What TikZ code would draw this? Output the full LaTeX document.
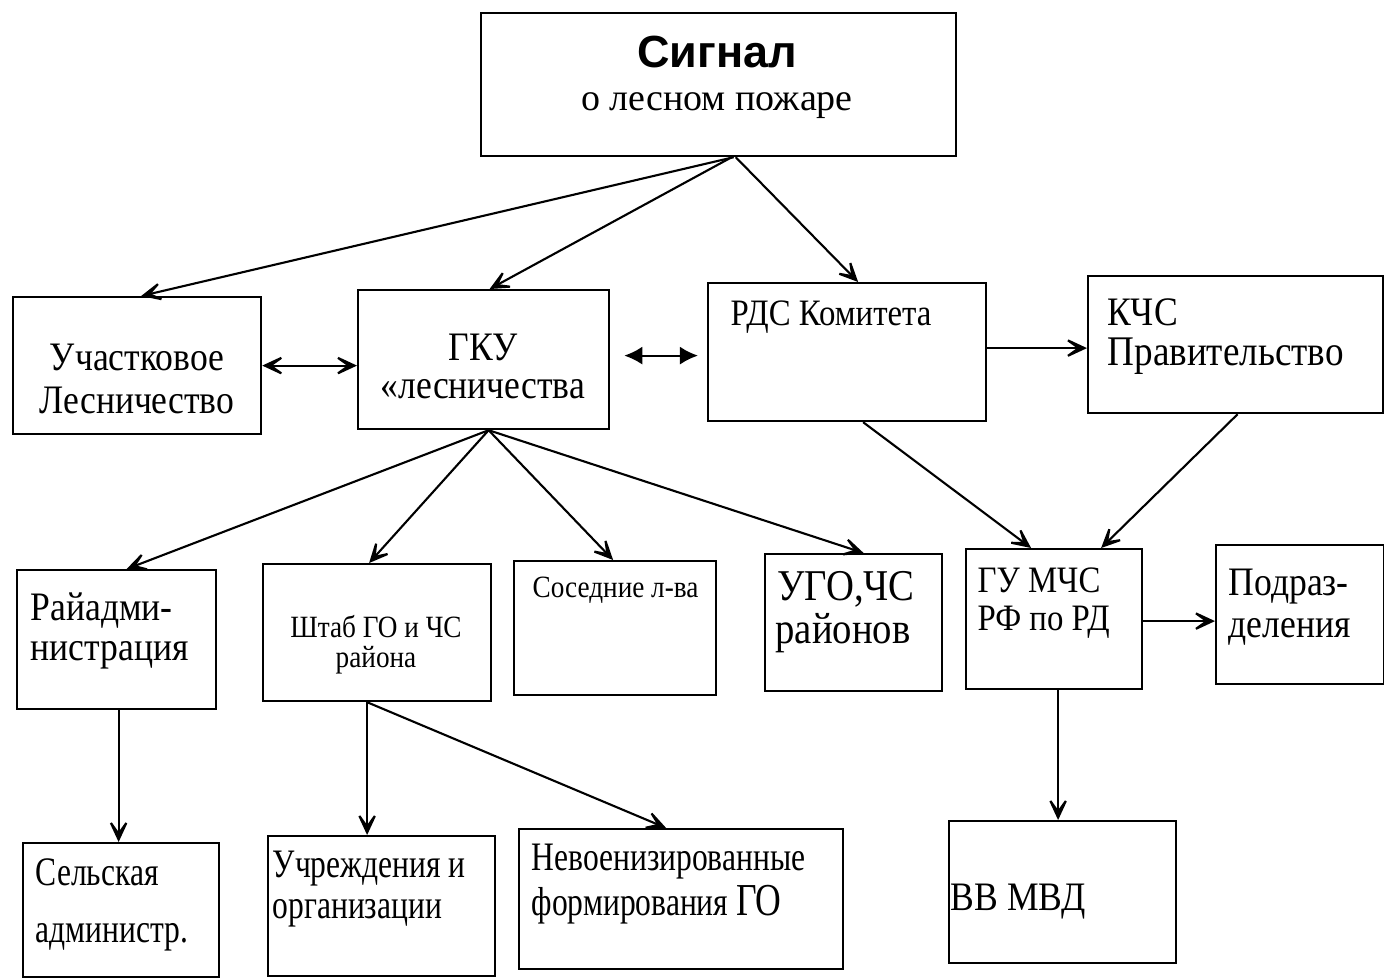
\documentclass[tikz,border=0pt]{standalone}
\usepackage{fontspec}
\setmainfont{Liberation Serif}
\newfontfamily\narrowfont[FakeStretch=0.88]{Liberation Serif}
\newfontfamily\tightfont[FakeStretch=0.78]{Liberation Serif}
\newfontfamily\headfont{Liberation Sans}
\usetikzlibrary{calc}
\usetikzlibrary{arrows.meta}

\tikzset{
  box/.style={draw, line width=.6pt, inner sep=0, anchor=north west},
  txt/.style={inner sep=0, font=\narrowfont\fontsize{11.5}{13}\selectfont},
  bigtxt/.style={inner sep=0, font=\narrowfont\fontsize{12.5}{14}\selectfont},
  tighttxt/.style={inner sep=0, font=\tightfont\fontsize{11.5}{13}\selectfont},
  smalltxt/.style={inner sep=0, font=\narrowfont\fontsize{8.8}{10}\selectfont},
  arr/.style={line width=.6pt, -{Stealth[length=2.9mm,width=2.7mm,inset=1.9mm]}},
  twoarr/.style={line width=.6pt, {Stealth[length=2.9mm,width=2.7mm,inset=1.9mm]}-{Stealth[length=2.9mm,width=2.7mm,inset=1.9mm]}},
  fillarr/.style={line width=.6pt, {Latex[length=1.8mm,width=1.8mm]}-{Latex[length=1.8mm,width=1.8mm]}}
}

\begin{document}
\begin{tikzpicture}[x=.01cm, y=-.01cm]
\useasboundingbox (0,0) rectangle (1384,978);
% boxes
\node[box, minimum width=4.75cm, minimum height=1.43cm] (signal) at (480,12) {};
\node[box, minimum width=2.48cm, minimum height=1.37cm] (uch) at (12,296) {};
\node[box, minimum width=2.51cm, minimum height=1.39cm] (gku) at (357,289) {};
\node[box, minimum width=2.78cm, minimum height=1.38cm] (rds) at (707,282) {};
\node[box, minimum width=2.95cm, minimum height=1.37cm] (kchs) at (1087,275) {};
\node[box, minimum width=1.99cm, minimum height=1.39cm] (raion) at (16,569) {};
\node[box, minimum width=2.28cm, minimum height=1.37cm] (shtab) at (262,563) {};
\node[box, minimum width=2.02cm, minimum height=1.34cm] (sosed) at (513,560) {};
\node[box, minimum width=1.77cm, minimum height=1.37cm] (ugo) at (764,553) {};
\node[box, minimum width=1.76cm, minimum height=1.40cm] (gumchs) at (965,548) {};
\node[box, minimum width=1.68cm, minimum height=1.39cm] (podr) at (1215,544) {};
\node[box, minimum width=1.96cm, minimum height=1.34cm] (selsk) at (22,842) {};
\node[box, minimum width=2.27cm, minimum height=1.40cm] (uchr) at (267,835) {};
\node[box, minimum width=3.24cm, minimum height=1.40cm] (nevoen) at (518,828) {};
\node[box, minimum width=2.27cm, minimum height=1.42cm] (vvmvd) at (948,820) {};

% texts
\node[inner sep=0, anchor=base, font=\headfont\bfseries\fontsize{12.8}{14}\selectfont] (signal-a) at (717,67) {Сигнал};
\node[inner sep=0, anchor=base, font=\fontsize{10.8}{12}\selectfont] (signal-b) at (717,110) {о лесном пожаре};
\node[txt, anchor=base] (uch-a) at (137,370) {Участковое};
\node[txt, anchor=base] (uch-b) at (137,413) {Лесничество};
\node[txt, anchor=base] (gku-a) at (483,360) {ГКУ};
\node[txt, anchor=base] (gku-b) at (483,398) {«лесничества};
\node[smalltxt, font=\narrowfont\fontsize{10.6}{12}\selectfont, anchor=base west] (rds-a) at (730,325) {РДС Комитета};
\node[txt, anchor=base west] (kchs-a) at (1107,325) {КЧС};
\node[txt, font=\narrowfont\fontsize{12}{13}\selectfont, anchor=base west] (kchs-b) at (1107,365) {Правительство};
\node[txt, anchor=base west] (raion-a) at (30,620) {Райадми-};
\node[txt, anchor=base west] (raion-b) at (30,660) {нистрация};
\node[smalltxt, anchor=base] (shtab-a) at (376,637) {Штаб ГО и ЧС};
\node[smalltxt, anchor=base] (shtab-b) at (376,667) {района};
\node[smalltxt, anchor=base west] (sosed-a) at (532,597) {Соседние л-ва};
\node[bigtxt, anchor=base] (ugo-a) at (846,600) {УГО,ЧС};
\node[bigtxt, anchor=base] (ugo-b) at (843,643) {районов};
\node[txt, font=\narrowfont\fontsize{10.6}{12}\selectfont, anchor=base west] (gumchs-a) at (977,592) {ГУ МЧС};
\node[txt, font=\narrowfont\fontsize{10.6}{12}\selectfont, anchor=base west] (gumchs-b) at (977,630) {РФ по РД};
\node[txt, anchor=base west] (podr-a) at (1228,595) {Подраз-};
\node[txt, anchor=base west] (podr-b) at (1228,637) {деления};
\node[tighttxt, anchor=base west] (selsk-a) at (35,885) {Сельская};
\node[tighttxt, anchor=base west] (selsk-b) at (35,942) {администр.};
\node[tighttxt, anchor=base west] (uchr-a) at (272,877) {Учреждения и};
\node[tighttxt, anchor=base west] (uchr-b) at (272,918) {организации};
\node[tighttxt, anchor=base west] (nevoen-a) at (531,870) {Невоенизированные};
\node[tighttxt, font=\tightfont\fontsize{11.5}{13}\selectfont, anchor=base west] (nevoen-b) at (531,915) {формирования \fontsize{13}{14}\selectfont ГО};
\node[txt, anchor=base west] (vvmvd-a) at (950,910) {ВВ МВД};

% connectors
\draw[arr] ([xshift=.15cm]signal.south) -- ([xshift=.04cm]uch.north);
\draw[arr] ([xshift=.13cm]signal.south) -- ([xshift=.06cm]gku.north);
\draw[arr] ([xshift=.17cm]signal.south) -- ([xshift=.11cm]rds.north);
\draw[twoarr] (uch.east) -- (uch.east -| gku.west);
\draw[fillarr] ([xshift=.14cm,yshift=.04cm]gku.east) -- ([xshift=-.09cm,yshift=.04cm]gku.east -| rds.west);
\draw[arr] ([yshift=.04cm]rds.east) -- ([yshift=.04cm]rds.east -| kchs.west);
\draw[arr] ([xshift=.05cm]gku.south) -- ([xshift=.1cm]raion.north);
\draw[arr] ([xshift=.05cm]gku.south) -- ([xshift=-.08cm]shtab.north);
\draw[arr] ([xshift=.05cm]gku.south) -- ([xshift=-.02cm]sosed.north);
\draw[arr] ([xshift=.05cm]gku.south) -- ([xshift=.1cm]ugo.north);
\draw[arr] ([xshift=.16cm]rds.south) -- ([xshift=-.23cm]gumchs.north);
\draw[arr] ([xshift=.02cm]kchs.south) -- ([xshift=.47cm]gumchs.north);
\draw[arr] ([yshift=-.02cm]gumchs.east) -- ([yshift=-.02cm]gumchs.east -| podr.west);
\draw[arr] ([xshift=.04cm]gumchs.south) -- ([xshift=.04cm]gumchs.south |- vvmvd.north);
\draw[arr] ([xshift=.02cm]raion.south) -- ([xshift=.02cm]raion.south |- selsk.north);
\draw[arr] ([xshift=-.1cm]shtab.south) -- ([xshift=-.1cm]shtab.south |- uchr.north);
\draw[arr] ([xshift=-.1cm]shtab.south) -- ([xshift=-.15cm]nevoen.north);
\end{tikzpicture}
\end{document}
